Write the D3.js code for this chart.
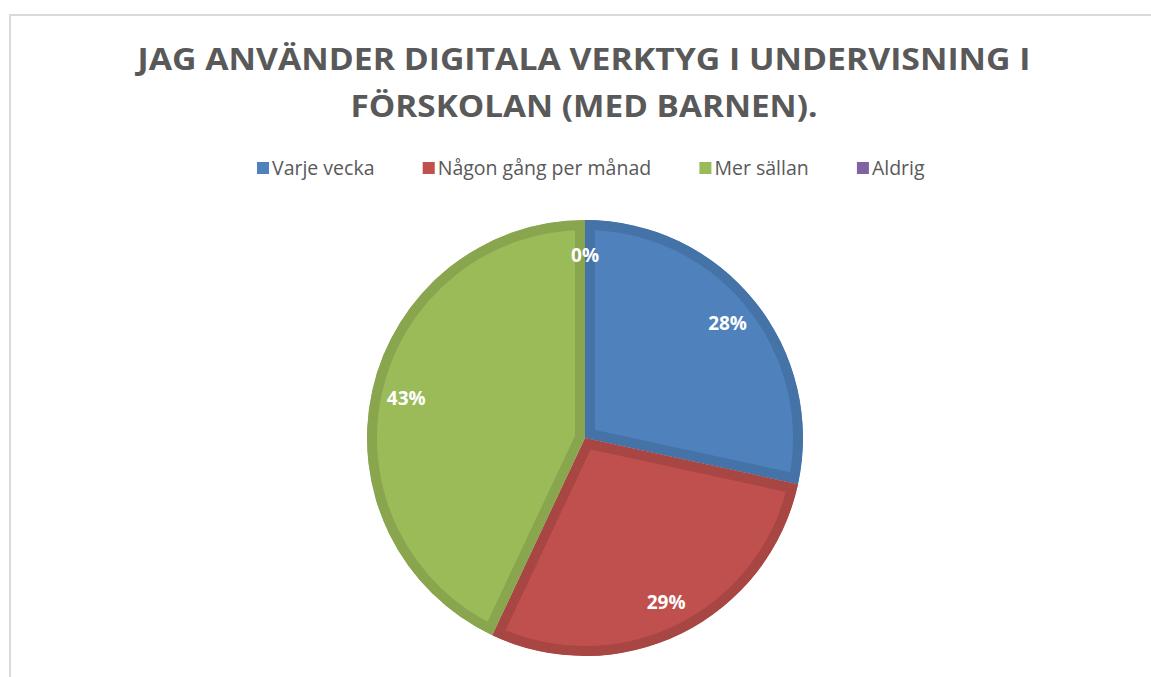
<!DOCTYPE html>
<html>
<head>
<meta charset="utf-8">
<script src="https://cdn.jsdelivr.net/npm/d3@7"></script>
<style>
  body { margin: 0; background: #fff; }
  text { font-family: "Open Sans", "Noto Sans", sans-serif; }
</style>
</head>
<body>
<svg id="chart" width="1151" height="677"></svg>
<script>
// pie data
var categories = ['Varje vecka', 'Någon gång per månad', 'Mer sällan', 'Aldrig']
var values = [28.4, 28.6, 43, 0]
var labels = ['28%', '29%', '43%', '0%']
var titleLines = ['JAG ANVÄNDER DIGITALA VERKTYG I UNDERVISNING I', 'FÖRSKOLAN (MED BARNEN).']

var fills = ['#4F81BD', '#C0504D', '#9BBB59', '#8064A2']
var edges = ['#4572A7', '#A84643', '#89A54E', '#71588F']

var svg = d3.select('#chart')

// chart area frame
svg.append('path')
    .attr('d', 'M10,677 V15 H1151')
    .attr('fill', 'none')
    .attr('stroke', '#d9d9d9')
    .attr('stroke-width', 2)

// title
svg.selectAll('.title')
    .data(titleLines)
    .join('text')
    .attr('class', 'title')
    .attr('x', 584)
    .attr('y', (d, i) => 70 + i * 47)
    .attr('text-anchor', 'middle')
    .attr('font-size', 30)
    .attr('font-weight', 'bold')
    .attr('fill', '#595959')
    .attr('textLength', (d, i) => i == 0 ? 893 : 467)
    .attr('lengthAdjust', 'spacingAndGlyphs')
    .text(d => d)

// legend, laid out by measured text widths
var legend = svg.append('g').attr('transform', 'translate(0,168)')
var items = legend.selectAll('g')
    .data(categories)
    .join('g')
items.append('rect')
    .attr('y', -6)
    .attr('width', 12)
    .attr('height', 12)
    .attr('fill', (d, i) => fills[i])
items.append('text')
    .attr('x', 15)
    .attr('dy', '0.35em')
    .attr('font-size', 19.5)
    .attr('fill', '#595959')
    .text(d => d)

var widths = []
items.each(function() { widths.push(this.getBBox().width) })
var left = 257, right = 925
var gap = (right - left - d3.sum(widths)) / (widths.length - 1)
var xpos = left
items.attr('transform', (d, i) => {
    var t = `translate(${xpos},0)`
    xpos += widths[i] + gap
    return t
})

// pie
var cx = 585, cy = 438, R = 218
var pie = d3.pie().sort(null).value(d => d)
var arc = d3.arc().innerRadius(0).outerRadius(R)
var arcs = pie(values)

var pieG = svg.append('g').attr('transform', `translate(${cx},${cy})`)
var defs = svg.append('defs')

defs.selectAll('clipPath')
    .data(arcs)
    .join('clipPath')
    .attr('id', (d, i) => 'slice' + i)
    .append('path')
    .attr('d', arc)

pieG.selectAll('.slice')
    .data(arcs)
    .join('path')
    .attr('class', 'slice')
    .attr('d', arc)
    .attr('fill', (d, i) => fills[i])
    .attr('stroke', (d, i) => edges[i])
    .attr('stroke-width', 20)
    .attr('stroke-linejoin', 'miter')
    .attr('clip-path', (d, i) => `url(#slice${i})`)

// data labels
var labelArc = d3.arc().innerRadius(R * 0.84).outerRadius(R * 0.84)
pieG.selectAll('.lbl')
    .data(arcs)
    .join('text')
    .attr('class', 'lbl')
    .attr('transform', d => `translate(${labelArc.centroid(d)})`)
    .attr('text-anchor', 'middle')
    .attr('dy', '0.35em')
    .attr('font-size', 19)
    .attr('font-weight', 'bold')
    .attr('fill', '#fff')
    .text((d, i) => labels[i])
</script>
</body>
</html>
